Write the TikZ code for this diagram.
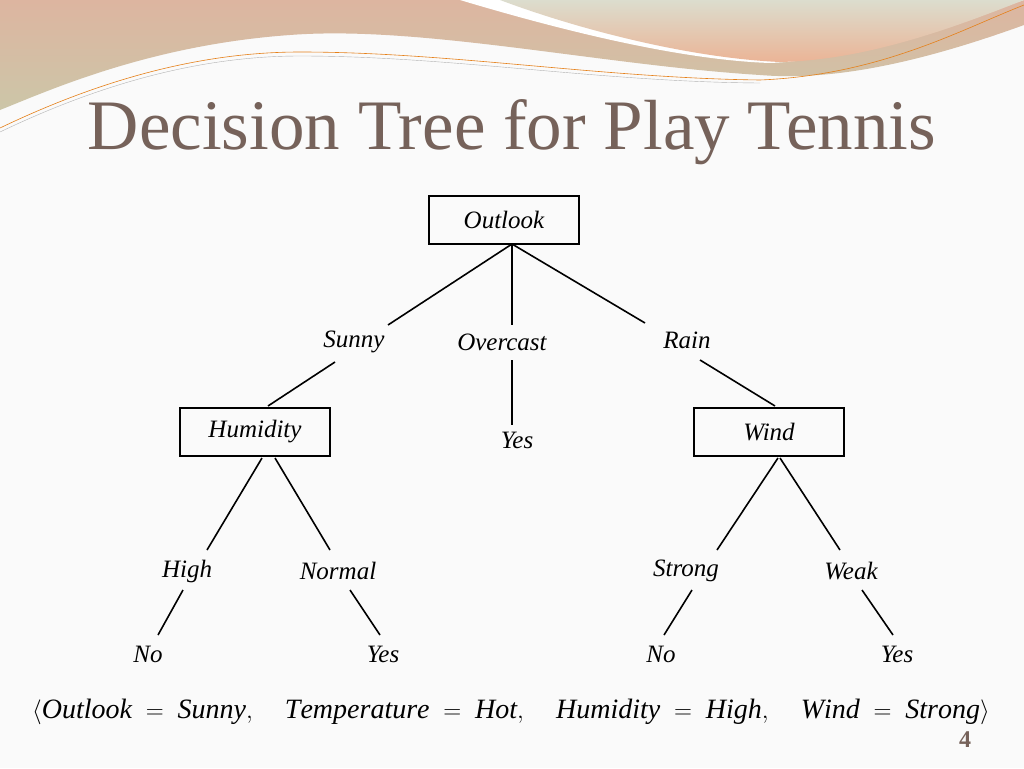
\documentclass[tikz,border=0pt]{standalone}
\usepackage{fontspec}
\setmainfont{Liberation Serif}
\definecolor{peach}{HTML}{DDB5A0}
\definecolor{sage}{HTML}{CCC6A8}
\definecolor{palegr}{HTML}{DCDDCE}
\definecolor{orng}{HTML}{EBB496}
\begin{document}
\begin{tikzpicture}[x=1pt,y=-1pt,
  lab/.style={font=\fontsize{25}{28}\selectfont\itshape},
  box/.style={draw,line width=1.8pt,minimum width=150pt,minimum height=48pt,font=\fontsize{25}{28}\selectfont\itshape},
  edge/.style={line width=1.6pt}]
\useasboundingbox (0,0) rectangle (1024,768);
\fill[white!96!gray] (0,0) rectangle (1024,768);
% decoration
\shade[top color=peach, bottom color=sage] (0,0) -- (1024,0) -- (1024,25) .. controls (900,70) and (820,80) .. (760,75) .. controls (600,65) and (420,25) .. (290,35) .. controls (150,45) and (50,90) .. (0,110) -- cycle;
\fill[white] (460,0) .. controls (560,30) and (680,60) .. (770,63) .. controls (850,60) and (960,20) .. (1024,0) -- cycle;
\shade[top color=palegr, bottom color=orng] (500,0) .. controls (580,30) and (690,58) .. (780,62) .. controls (870,60) and (960,25) .. (1024,0) -- cycle;
\draw[orange!60!brown,line width=0.6pt] (0,128) .. controls (100,80) and (200,52) .. (300,52) .. controls (450,52) and (600,78) .. (760,80) .. controls (880,75) and (960,30) .. (1024,5);
\draw[gray!60,line width=0.4pt] (0,132) .. controls (100,84) and (200,56) .. (300,56) .. controls (450,56) and (600,82) .. (760,83);
% title
\node (title) at (512,132) {\fontsize{71}{76}\selectfont\color[HTML]{76625A}Decision Tree for Play Tennis};
% tree
\node[box] (outlook) at (504,220) {Outlook};
\node[lab] (sunny) at (354,342) {Sunny};
\node[lab] (overcast) at (502,342) {Overcast};
\node[lab] (rain) at (687,340) {Rain};
\node[lab] (yes1) at (517,440) {Yes};
\node[box] (hum) at (255,432) {Humidity};
\node[box] (wind) at (769,432) {Wind};
\node[lab] (high) at (187,571) {High};
\node[lab] (normal) at (338,571) {Normal};
\node[lab] (strong) at (686,571) {Strong};
\node[lab] (weak) at (851,571) {Weak};
\node[lab] (no1) at (148,654) {No};
\node[lab] (yes2) at (383,654) {Yes};
\node[lab] (no2) at (661,654) {No};
\node[lab] (yes3) at (897,654) {Yes};
\coordinate (ob) at (512,244);
\draw[edge] (ob) -- (388,325);
\draw[edge] (ob) -- (512,325);
\draw[edge] (ob) -- (645,323);
\draw[edge] (335,362) -- (268,406);
\draw[edge] (512,360) -- (512,425);
\draw[edge] (700,360) -- (775,406);
\draw[edge] (262,458) -- (207,550);
\draw[edge] (275,458) -- (330,550);
\draw[edge] (778,458) -- (717,550);
\draw[edge] (780,458) -- (840,550);
\draw[edge] (183,590) -- (158,635);
\draw[edge] (350,590) -- (380,635);
\draw[edge] (692,590) -- (664,635);
\draw[edge] (862,590) -- (893,635);
% formula
\node (f) at (511,712) {\fontsize{28}{32}\selectfont$\langle \mathit{Outlook}\;=\;\mathit{Sunny},\quad \mathit{Temperature}\;=\;\mathit{Hot},\quad \mathit{Humidity}\;=\;\mathit{High},\quad \mathit{Wind}\;=\;\mathit{Strong}\rangle$};
\node (pg) at (965,740) {\fontsize{24}{26}\selectfont\bfseries\color[HTML]{76625A}4};
\end{tikzpicture}
\end{document}
